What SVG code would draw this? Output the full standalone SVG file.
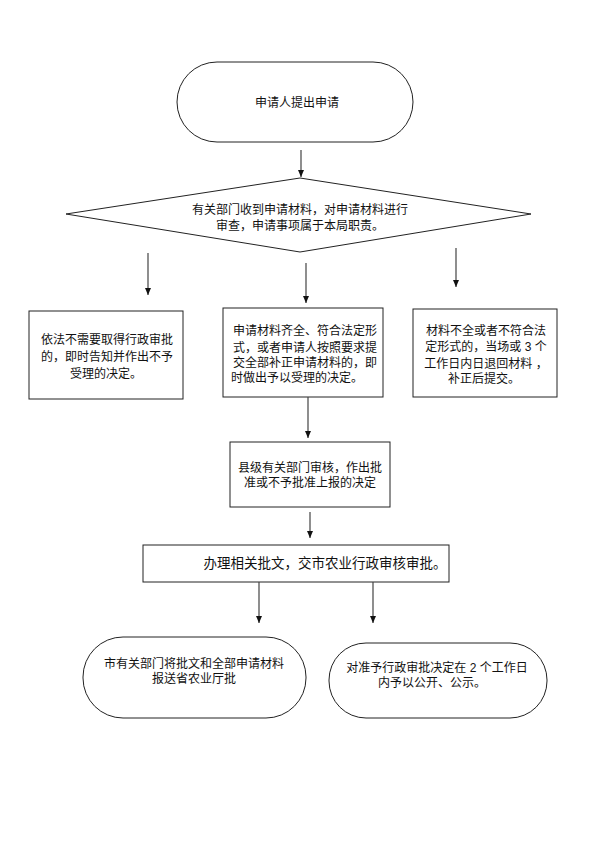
<svg xmlns="http://www.w3.org/2000/svg" width="595" height="841" viewBox="0 0 595 841">
<style>
.shape{fill:#fff;stroke:#222;stroke-width:1}
.t{font-family:"Liberation Sans","Noto Sans CJK SC",sans-serif;font-size:12px;fill:#111;text-anchor:middle;dominant-baseline:central}
.big{font-size:13.5px}
.c{stroke:#444;stroke-width:1.2;fill:none;marker-end:url(#ah)}
</style>
<defs>
<marker id="ah" viewBox="0 0 7 6" refX="7" refY="3" markerWidth="7" markerHeight="6" markerUnits="userSpaceOnUse" orient="auto">
<path d="M0,0 L7,3 L0,6 Z" fill="#111"/>
</marker>
</defs>
<rect width="595" height="841" fill="#fff"/>
<g id="n1"><rect class="shape" x="177" y="62" width="236" height="80" rx="40"/><text class="t" x="297" y="103">申请人提出申请</text></g>
<g id="n2"><polygon class="shape" points="300,178 531,214 300,252 66,214"/><text class="t" x="300" y="210">有关部门收到申请材料，对申请材料进行</text><text class="t" x="300" y="226">审查，申请事项属于本局职责。</text></g>
<g id="n3"><rect class="shape" x="29" y="311" width="154" height="88"/><text class="t" x="107" y="340">依法不需要取得行政审批</text><text class="t" x="107" y="357">的，即时告知并作出不予</text><text class="t" x="106" y="374">受理的决定。</text></g>
<g id="n4"><rect class="shape" x="223" y="308" width="160" height="89"/><text class="t" x="305" y="331">申请材料齐全、符合法定形</text><text class="t" x="305" y="348">式，或者申请人按照要求提</text><text class="t" x="305" y="363">交全部补正申请材料的，即</text><text class="t" x="297" y="378">时做出予以受理的决定。</text></g>
<g id="n5"><rect class="shape" x="413" y="309" width="144" height="88"/><text class="t" x="486" y="331">材料不全或者不符合法</text><text class="t" x="486" y="347">定形式的，当场或 3 个</text><text class="t" x="486" y="364">工作日内日退回材料 ，</text><text class="t" x="484" y="379">补正后提交。</text></g>
<g id="n6"><rect class="shape" x="230" y="442" width="160" height="65"/><text class="t" x="310" y="468">县级有关部门审核，作出批</text><text class="t" x="310" y="483">准或不予批准上报的决定</text></g>
<g id="n7"><rect class="shape" x="143" y="545" width="306" height="37"/><text class="t big" x="325" y="563">办理相关批文，交市农业行政审核审批。</text></g>
<g id="n8"><rect class="shape" x="83" y="637" width="223" height="81" rx="40"/><text class="t" x="194" y="664">市有关部门将批文和全部申请材料</text><text class="t" x="194" y="679">报送省农业厅批</text></g>
<g id="n9"><rect class="shape" x="329" y="643" width="218" height="75" rx="37"/><text class="t" x="437" y="668">对准予行政审批决定在 2 个工作日</text><text class="t" x="432" y="683">内予以公开、公示。</text></g>
<g id="connectors">
<line class="c" x1="301" y1="150" x2="301" y2="177"/>
<line class="c" x1="148" y1="253" x2="148" y2="295"/>
<line class="c" x1="306" y1="263" x2="306" y2="303"/>
<line class="c" x1="456" y1="248" x2="456" y2="287"/>
<line class="c" x1="308" y1="397" x2="308" y2="438"/>
<line class="c" x1="310" y1="512" x2="310" y2="538"/>
<line class="c" x1="259" y1="582" x2="259" y2="623"/>
<line class="c" x1="373" y1="582" x2="373" y2="623"/>
</g>
</svg>
